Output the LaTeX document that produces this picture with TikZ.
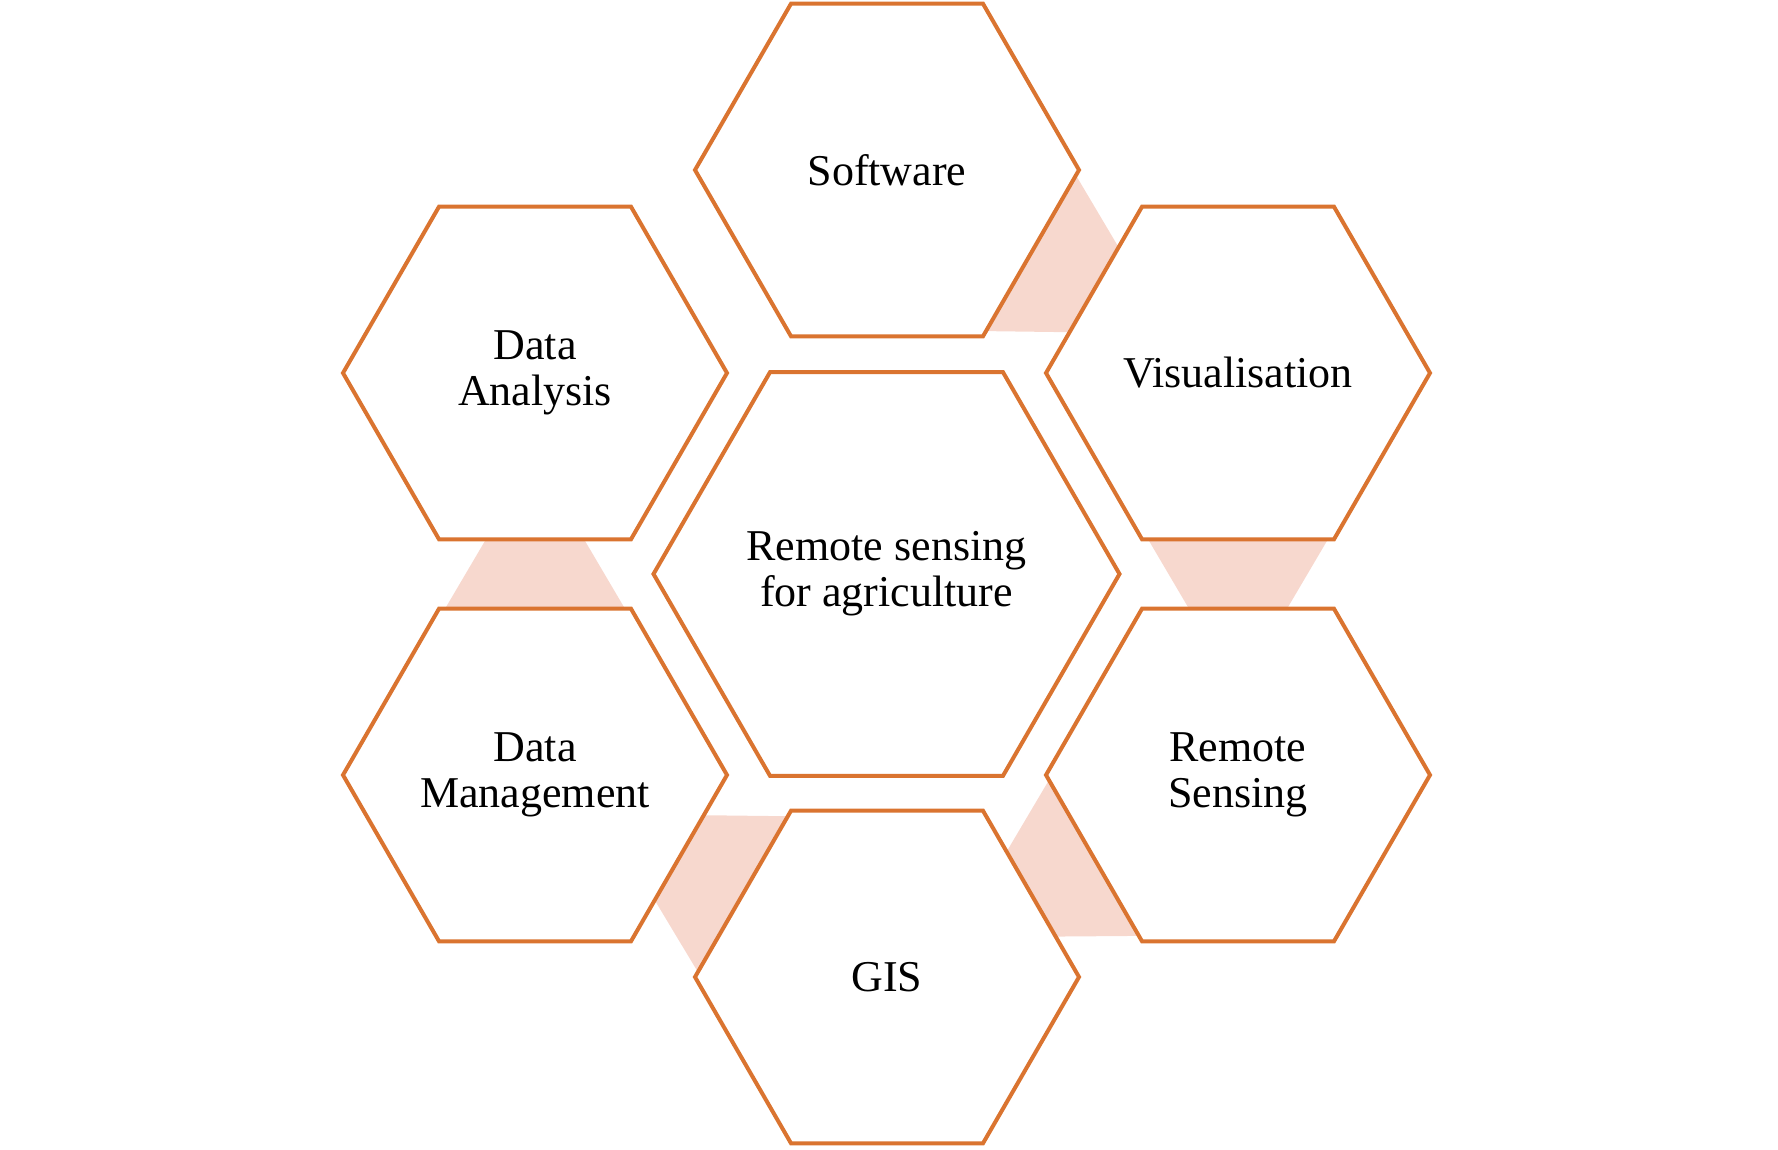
\documentclass[tikz,border=0pt]{standalone}
\usepackage{fontspec}
\setmainfont{Liberation Serif}
\usetikzlibrary{shapes.geometric,calc}
\definecolor{hexorange}{RGB}{218,116,48}
\definecolor{linkpink}{RGB}{247,216,206}
\pgfdeclarelayer{background}
\pgfsetlayers{background,main}
\begin{document}
\begin{tikzpicture}[x=0.5pt,y=-0.5pt,
  hexbox/.style={regular polygon, regular polygon sides=6, draw=hexorange, line width=2pt,
    fill=white, inner sep=0pt, outer sep=0pt, align=center,
    font=\fontsize{22}{23}\selectfont, text=black},
  outerhex/.style={hexbox, minimum size=192pt},
  centerhex/.style={hexbox, minimum size=233pt},
  link/.style={fill=linkpink, draw=none}]
\useasboundingbox (0,0) rectangle (1778,1150);

\node[centerhex] (core) at (886.5,574) {Remote sensing\\for agriculture};
\node[outerhex] (sw) at (887,170) {Software};
\node[outerhex] (vis) at (1238,373) {Visualisation};
\node[outerhex] (rs) at (1238,775) {Remote\\Sensing};
\node[outerhex] (gis) at (887,977) {GIS};
\node[outerhex] (dm) at (535,775) {Data\\Management};
\node[outerhex] (da) at (535,373) {Data\\Analysis};

\begin{pgfonlayer}{background}
\foreach \a/\b in {sw/vis, vis/rs, rs/gis, gis/dm, dm/da}{
  \fill[link] ($(\a.center)!83.1pt!(\b.center)!45pt!90:(\b.center)$)
    -- ($(\b.center)!83.1pt!(\a.center)!24.5pt!-90:(\a.center)$)
    -- ($(\b.center)!83.1pt!(\a.center)!24.5pt!90:(\a.center)$)
    -- ($(\a.center)!83.1pt!(\b.center)!45pt!-90:(\b.center)$)
    -- cycle;
}
\end{pgfonlayer}
\end{tikzpicture}
\end{document}
